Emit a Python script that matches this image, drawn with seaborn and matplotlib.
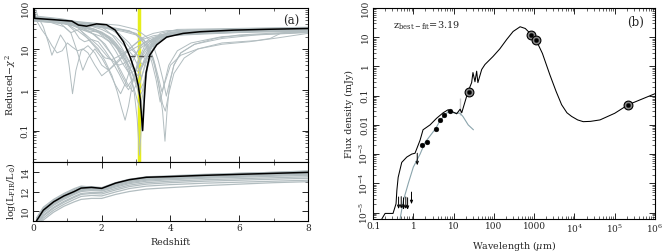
import numpy as np
import pandas as pd
import matplotlib
matplotlib.use("Agg")
import matplotlib.pyplot as plt
import seaborn as sns
from matplotlib.ticker import FixedLocator, LogLocator, NullFormatter, MultipleLocator

## Data - panel (a), reduced chi2 vs redshift
best_z = [0.0, 0.03, 0.05, 0.59, 1.13, 1.32, 1.56, 1.85, 2.14, 2.39, 2.63, 2.82, 2.97, 3.06,
          3.12, 3.19, 3.24, 3.29, 3.40, 3.60, 3.89, 4.37, 4.86, 5.83, 6.80, 8.0]
best_chi = [300, 120, 56, 52, 48, 38.5, 36, 41, 39, 29, 15, 6.5, 2.8, 1.3,
            0.6, 0.1, 0.6, 2.6, 7.1, 12.6, 19.5, 24, 26.3, 28.8, 30.2, 31.6]

grey_z = [
    [0, 0.15, 0.3, 0.45, 0.55, 0.65, 0.8, 0.95, 1.05, 1.15, 1.25, 1.4, 1.6, 1.8, 2.0, 2.2, 2.5, 2.8, 3.1, 3.5, 4.0, 5.0, 8],
    [0, 0.5, 0.9, 1.1, 1.3, 1.45, 1.6, 1.8, 2.0, 2.2, 2.4, 2.55, 2.7, 2.9, 3.1, 3.4, 3.8, 4.5, 6, 8],
    [0, 0.6, 1.0, 1.3, 1.6, 1.9, 2.1, 2.3, 2.45, 2.58, 2.68, 2.78, 2.9, 3.05, 3.25, 3.5, 3.8, 5, 8],
    [0, 0.8, 1.3, 1.8, 2.2, 2.5, 2.7, 2.85, 2.95, 3.03, 3.1, 3.17, 3.25, 3.35, 3.5, 3.7, 4.0, 5, 8],
    [0, 1.0, 1.5, 2.0, 2.5, 2.9, 3.2, 3.4, 3.55, 3.68, 3.77, 3.84, 3.9, 3.98, 4.1, 4.3, 4.7, 5.5, 6.5, 8],
    [0, 1.0, 2.0, 2.6, 3.0, 3.3, 3.5, 3.65, 3.77, 3.85, 3.95, 4.1, 4.4, 4.8, 5.5, 6.5, 6.9, 7.2, 8],
    [0, 1.0, 2.0, 2.8, 3.1, 3.3, 3.45, 3.58, 3.7, 3.8, 3.95, 4.2, 4.6, 5.5, 8],
    [0, 0.8, 1.2, 1.5, 1.8, 2.1, 2.35, 2.55, 2.75, 2.9, 3.05, 3.2, 3.4, 3.7, 4.2, 8],
    [0, 1.0, 1.4, 1.7, 2.0, 2.3, 2.55, 2.75, 2.9, 3.0, 3.15, 3.35, 3.6, 4.0, 8],
    [0, 0.5, 1.0, 1.3, 1.6, 2.0, 2.4, 2.7, 2.9, 3.0, 3.08, 3.15, 3.25, 3.4, 3.6, 4.0, 4.5, 8],
    [0, 0.6, 1.0, 1.2, 1.35, 1.5, 1.7, 1.9, 2.1, 2.3, 2.5, 2.65, 2.78, 2.9, 3.05, 3.25, 3.5, 3.9, 8],
    [0, 0.6, 1.2, 1.6, 2.0, 2.4, 2.7, 2.9, 3.05, 3.15, 3.25, 3.4, 3.6, 4.0, 8],
    [0, 0.1, 0.25, 0.4, 0.55, 0.7, 0.85, 1.0, 1.15, 1.3, 1.45, 1.6, 1.8, 2.0, 2.2, 2.45, 2.7, 3.0, 3.3, 3.7, 4.5, 8],
    [0, 0.8, 1.4, 1.9, 2.3, 2.6, 2.85, 3.05, 3.2, 3.35, 3.5, 3.7, 4.2, 8],
    [0, 0.7, 1.2, 1.5, 1.9, 2.2, 2.45, 2.65, 2.82, 2.95, 3.05, 3.12, 3.2, 3.3, 3.45, 3.7, 4.1, 8],
    [0, 1.5, 2.5, 3.0, 3.3, 3.5, 3.65, 3.78, 3.88, 3.97, 4.1, 4.3, 4.7, 5.3, 6.0, 8],
    [0, 1.0, 1.5, 2.0, 2.4, 2.65, 2.85, 3.0, 3.1, 3.18, 3.28, 3.4, 3.6, 3.9, 8],
    [0, 0.2, 0.4, 0.6, 0.8, 1.0, 1.1, 1.2, 1.35, 1.6, 1.9, 2.2, 2.5, 2.8, 3.1, 3.5, 4.5, 8],
    [0, 0.5, 1.0, 1.4, 1.7, 2.0, 2.3, 2.55, 2.75, 2.92, 3.05, 3.2, 3.4, 3.7, 4.2, 8],
    [0, 0.6, 1.1, 1.5, 1.8, 2.1, 2.4, 2.65, 2.85, 3.0, 3.12, 3.22, 3.35, 3.55, 3.9, 8],
    [0, 0.4, 0.9, 1.3, 1.6, 1.9, 2.2, 2.4, 2.6, 2.8, 3.0, 3.2, 3.5, 3.9, 8],
    [0, 0.5, 1.0, 1.3, 1.5, 1.7, 1.9, 2.1, 2.3, 2.55, 2.8, 3.0, 3.2, 3.5, 3.9, 8],
    [0, 1.0, 1.6, 2.1, 2.5, 2.8, 3.0, 3.1, 3.2, 3.3, 3.45, 3.65, 4.0, 8],
    [0, 0.8, 1.3, 1.7, 2.0, 2.3, 2.6, 2.85, 3.05, 3.25, 3.45, 3.7, 4.1, 5, 6.5, 8],
    [0, 1.0, 2.0, 2.6, 3.0, 3.3, 3.5, 3.65, 3.75, 3.85, 4.0, 4.3, 4.8, 5.5, 6.3, 7.0, 8],
]
grey_chi = [
    [150, 60, 35, 14, 7, 11, 22, 14, 4, 0.8, 3, 9, 12, 8, 4, 3, 5, 10, 16, 21, 24, 26, 28],
    [55, 45, 35, 25, 8, 3, 6, 10, 6, 3, 1.3, 0.8, 1.5, 5, 11, 18, 23, 26, 27, 28],
    [58, 50, 40, 28, 18, 10, 5, 2.2, 0.9, 0.35, 0.18, 0.4, 1.5, 5, 12, 18, 22, 26, 30],
    [55, 45, 35, 30, 20, 10, 5, 2.2, 0.8, 0.2, 0.025, 0.2, 1.2, 4, 10, 16, 21, 25, 27],
    [50, 45, 38, 35, 30, 25, 18, 10, 4, 1, 0.3, 0.055, 0.3, 1.5, 4, 8, 13, 18, 22, 25],
    [52, 44, 33, 27, 22, 12, 5, 1.5, 0.45, 0.3, 0.8, 2.5, 6, 10, 14, 16, 18, 24, 26],
    [48, 42, 35, 28, 20, 11, 5, 1.8, 0.5, 1.2, 4, 9, 14, 20, 26],
    [55, 50, 38, 30, 22, 13, 6, 2.5, 1.2, 1.8, 4, 8, 14, 20, 25, 29],
    [60, 50, 35, 25, 15, 7, 3, 1.4, 0.9, 1.3, 3.5, 10, 17, 23, 30],
    [57, 50, 45, 33, 26, 20, 12, 5, 2.5, 1.6, 1.2, 1.8, 4, 11, 18, 25, 29, 33],
    [50, 48, 40, 28, 18, 15, 17, 15, 9, 5, 2.5, 1.4, 1.0, 1.6, 4, 10, 17, 24, 32],
    [62, 55, 45, 38, 30, 20, 11, 7, 4, 2, 3.5, 9, 17, 25, 33],
    [120, 50, 30, 20, 12, 8, 9, 14, 11, 9, 10, 8, 4, 2.2, 3, 5, 8, 11, 15, 20, 25, 28],
    [65, 55, 45, 40, 30, 18, 10, 7, 6, 9, 15, 24, 30, 34],
    [53, 47, 36, 28, 26, 18, 10, 5, 2.2, 1.0, 0.5, 0.35, 0.8, 3, 9, 17, 24, 29],
    [55, 45, 38, 30, 20, 12, 5, 1.8, 0.7, 1.5, 4, 8, 13, 18, 22, 27],
    [50, 40, 32, 25, 14, 7, 3, 1.3, 0.7, 0.9, 2.5, 7, 14, 21, 30],
    [58, 55, 52, 48, 42, 30, 25, 27, 30, 20, 12, 6, 4, 5, 10, 18, 26, 31],
    [58, 52, 44, 40, 42, 35, 22, 12, 6, 3, 2.2, 4, 10, 19, 26, 31],
    [52, 48, 42, 36, 30, 22, 12, 6, 3, 1.6, 1.0, 1.5, 5, 13, 22, 30],
    [56, 52, 46, 40, 32, 25, 16, 9, 4.5, 2.5, 3, 7, 16, 24, 31],
    [60, 55, 48, 35, 22, 14, 9, 6, 5.5, 7, 10, 14, 19, 24, 28, 32],
    [54, 46, 40, 34, 24, 14, 8, 5, 4, 6, 12, 20, 27, 31],
    [48, 44, 38, 32, 26, 18, 9, 4, 2.8, 5, 11, 17, 22, 24, 26, 27],
    [50, 46, 38, 30, 24, 14, 6, 2, 0.9, 1.6, 4, 7, 10, 13, 15, 18, 24],
]

# photometric redshift marker and chi2 confidence level
z_marker = 3.08
conf_chi = 6.7
conf_z = [2.82, 3.46]

## Data - panel (a), log L_FIR vs redshift
lir_z = [0.1, 0.3, 0.6, 0.9, 1.2, 1.4, 1.7, 2.0, 2.4, 2.8, 3.3, 4.0, 5.0, 6.0, 7.0, 8.0]
best_lir = [9.0, 10.1, 10.95, 11.55, 12.0, 12.35, 12.42, 12.32, 12.85, 13.2, 13.45, 13.52, 13.65, 13.75, 13.85, 13.95]
grey_lir = [
    [9.2, 10.3, 11.1, 11.7, 12.2, 12.5, 12.5, 12.4, 12.9, 13.25, 13.5, 13.6, 13.75, 13.85, 13.95, 14.05],
    [9.1, 10.2, 11.0, 11.6, 12.1, 12.4, 12.35, 12.25, 12.75, 13.1, 13.35, 13.45, 13.6, 13.7, 13.8, 13.9],
    [8.9, 10.0, 10.8, 11.4, 11.9, 12.2, 12.3, 12.2, 12.65, 13.0, 13.25, 13.35, 13.5, 13.6, 13.7, 13.8],
    [8.8, 9.9, 10.7, 11.3, 11.8, 12.1, 12.2, 12.1, 12.55, 12.9, 13.15, 13.3, 13.45, 13.55, 13.65, 13.75],
    [8.7, 9.8, 10.6, 11.2, 11.7, 12.0, 12.1, 12.05, 12.45, 12.8, 13.05, 13.2, 13.35, 13.45, 13.55, 13.65],
    [8.6, 9.6, 10.4, 11.0, 11.5, 11.8, 11.9, 11.9, 12.3, 12.65, 12.9, 13.05, 13.2, 13.3, 13.4, 13.5],
    [8.5, 9.5, 10.3, 10.9, 11.4, 11.7, 11.8, 11.75, 12.15, 12.5, 12.75, 12.9, 13.05, 13.15, 13.25, 13.35],
    [8.4, 9.3, 10.1, 10.7, 11.2, 11.5, 11.6, 11.55, 11.95, 12.3, 12.55, 12.7, 12.85, 12.95, 13.05, 13.15],
    [8.3, 9.1, 9.9, 10.5, 10.95, 11.2, 11.3, 11.3, 11.7, 12.0, 12.25, 12.4, 12.6, 12.75, 12.9, 13.0],
    [9.3, 10.4, 11.2, 11.8, 12.3, 12.55, 12.45, 12.35, 12.85, 13.2, 13.45, 13.55, 13.7, 13.85, 13.95, 14.1],
    [9.0, 10.15, 10.9, 11.5, 12.0, 12.3, 12.3, 12.2, 12.7, 13.05, 13.3, 13.4, 13.55, 13.65, 13.75, 13.85],
    [8.95, 10.05, 10.85, 11.45, 11.95, 12.25, 12.3, 12.25, 12.7, 13.05, 13.3, 13.4, 13.5, 13.6, 13.72, 13.82],
]

## Data - panel (b), SED
sed_wave = [0.15, 0.167, 0.199, 0.313, 0.372, 0.39, 0.42, 0.515, 0.686, 0.91, 1.1, 1.47, 1.74, 2.6, 3.8,
            5.5, 7.3, 9.0, 11.9, 14.5, 14.5, 14.5, 15.9, 22.8, 28, 30.2, 33.9, 37.3, 40, 49.8, 60,
            95, 140, 209, 300, 447, 600, 871, 1100, 1600, 2450, 3500, 4800, 6500, 8500, 12000,
            16500, 25000, 43000, 1e5, 2.16e5, 1e6]
sed_flux = [4e-6, 6.2e-6, 9.3e-6, 9.3e-6, 2.0e-5, 5.8e-5, 1.6e-4, 5.2e-4, 7.9e-4, 1.0e-3, 1.07e-3, 3.0e-3, 6.8e-3, 0.010, 0.017,
            0.026, 0.033, 0.029, 0.024, 0.022, 0.085, 0.022, 0.026, 0.138, 0.28, 0.62, 0.30, 0.69, 0.28, 0.79, 1.17,
            2.2, 4.0, 8.5, 15.8, 22.9, 20, 12, 8.3, 2.8, 0.52, 0.14, 0.049, 0.026, 0.0195, 0.0148,
            0.0129, 0.0132, 0.0148, 0.025, 0.049, 0.117]
alt_wave = [0.468, 0.565, 0.75, 1.0, 1.47, 1.95, 2.86, 3.6, 4.6, 5.9, 7.6, 9.8, 14.4, 17, 23, 31]
alt_flux = [6.0e-6, 2.57e-5, 1.0e-4, 3.6e-4, 1.0e-3, 2.5e-3, 5.0e-3, 7.6e-3, 0.014, 0.021, 0.030, 0.026, 0.025, 0.0195, 0.010, 0.0068]

phot_wave = [1.6, 2.2, 3.6, 4.5, 5.8, 8.0]
phot_flux = [2.1e-3, 2.5e-3, 7.2e-3, 0.0148, 0.0214, 0.031]
fir_wave = [24, 850, 1100, 2.1e5]
fir_flux = [0.138, 12, 8.3, 0.049]
lim_wave = [1.25, 0.43, 0.5, 0.57, 0.65, 0.72, 0.9]
lim_flux = [1.07e-3, 3.4e-5, 3.5e-5, 3.2e-5, 3.4e-5, 3.2e-5, 5.0e-5]

## Style
sns.set_style("ticks")
plt.rcParams["font.family"] = ["DejaVu Serif"]
plt.rcParams["mathtext.fontset"] = "dejavuserif"
plt.rcParams["font.size"] = 6.8
for ax_ in ["xtick", "ytick"]:
    plt.rcParams[ax_ + ".direction"] = "in"
    plt.rcParams[ax_ + ".major.size"] = 4
    plt.rcParams[ax_ + ".minor.size"] = 2
    plt.rcParams[ax_ + ".major.width"] = 0.7
    plt.rcParams[ax_ + ".minor.width"] = 0.5
    plt.rcParams[ax_ + ".labelsize"] = 6.5
    plt.rcParams[ax_ + ".major.pad"] = 2.5
plt.rcParams["axes.linewidth"] = 0.8
plt.rcParams["axes.edgecolor"] = "black"

grey = "#b2bdc0"
grey_sed = "#8aa4ac"

fig = plt.figure(figsize=(6.65, 2.52), dpi=100)
ax1 = fig.add_axes([0.0496, 0.357, 0.4135, 0.611])
ax2 = fig.add_axes([0.0496, 0.123, 0.4135, 0.234], sharex=ax1)
ax3 = fig.add_axes([0.561, 0.131, 0.424, 0.837])

## Panel (a) top
ax1.set_yscale("log")
chi_rows = []
for i, (zs, cs) in enumerate(zip(grey_z, grey_chi)):
    for z, c in zip(zs, cs):
        chi_rows.append({"curve": i, "z": z, "chi": c})
chi_df = pd.DataFrame(chi_rows)
sns.lineplot(data=chi_df, x="z", y="chi", units="curve", estimator=None, sort=False,
             color=grey, lw=0.7, ax=ax1, legend=False)
ax1.axvline(z_marker, color="#e6ee1a", lw=2.5, zorder=1)
ax1.hlines(conf_chi, conf_z[0], conf_z[1], colors="#555555", linestyles=(0, (4, 3)), lw=0.9, zorder=4)
sns.lineplot(x=best_z, y=best_chi, color="black", lw=1.1, sort=False, ax=ax1, zorder=5)
ax1.set_xlim(0, 8)
ax1.set_ylim(0.017, 100)
ax1.set_yticks([0.1, 1, 10, 100])
ax1.set_yticklabels(["0.1", "1", "10", "100"], rotation=90, va="center")
ax1.yaxis.set_minor_locator(LogLocator(base=10, subs=np.arange(2, 10)))
ax1.yaxis.set_minor_formatter(NullFormatter())
ax1.set_ylabel(r"Reduced$-\chi^2$", labelpad=2)
ax1.set_xlabel("")
ax1.tick_params(which="both", top=True, right=True, labelbottom=False)
ax1.text(0.94, 0.91, "(a)", transform=ax1.transAxes, ha="center", va="center", fontsize=8.5)

## Panel (a) bottom
lir_rows = []
for i, ls in enumerate(grey_lir):
    for z, l in zip(lir_z, ls):
        lir_rows.append({"curve": i, "z": z, "lir": l})
lir_df = pd.DataFrame(lir_rows)
sns.lineplot(data=lir_df, x="z", y="lir", units="curve", estimator=None, sort=False,
             color=grey, lw=0.9, ax=ax2, legend=False)
sns.lineplot(x=lir_z, y=best_lir, color="black", lw=1.1, sort=False, ax=ax2, zorder=5)
ax2.set_ylim(9, 15)
ax2.set_yticks([10, 12, 14])
ax2.set_yticklabels(["10", "12", "14"], rotation=90, va="center")
ax2.yaxis.set_minor_locator(MultipleLocator(1))
ax2.xaxis.set_major_locator(MultipleLocator(2))
ax2.xaxis.set_minor_locator(MultipleLocator(1))
ax2.set_xlim(0, 8)
ax2.tick_params(which="both", top=True, right=True)
ax2.set_xlabel("Redshift", labelpad=3)
ax2.set_ylabel(r"log(L$_{\rm FIR}$/L$_{\odot}$)", labelpad=2)

## Panel (b)
ax3.set_xscale("log")
ax3.set_yscale("log")
sns.lineplot(x=alt_wave, y=alt_flux, color=grey_sed, lw=0.8, sort=False, ax=ax3)
sns.lineplot(x=sed_wave, y=sed_flux, color="black", lw=0.75, sort=False, ax=ax3)
sns.scatterplot(x=phot_wave, y=phot_flux, color="black", s=12, edgecolor="black", ax=ax3, zorder=6)
sns.scatterplot(x=fir_wave, y=fir_flux, s=40, facecolor="#888888", edgecolor="black", linewidth=0.8, ax=ax3, zorder=6)
sns.scatterplot(x=fir_wave, y=fir_flux, color="black", s=9, edgecolor="black", ax=ax3, zorder=7)
for w, f in zip(lim_wave, lim_flux):
    ax3.annotate("", xy=(w, f / 2.6), xytext=(w, f),
                 arrowprops=dict(arrowstyle="->,head_length=0.3,head_width=0.12", lw=0.7,
                                 color="black", shrinkA=0, shrinkB=0))
ax3.set_xlim(0.1, 1e6)
ax3.set_ylim(6e-6, 100)
ax3.xaxis.set_major_locator(FixedLocator([0.1, 1, 10, 100, 1000, 1e4, 1e5, 1e6]))
ax3.set_xticklabels(["0.1", "1", "10", "100", "1000", r"10$^4$", r"10$^5$", r"10$^6$"])
ax3.xaxis.set_minor_locator(LogLocator(base=10, subs=np.arange(2, 10), numticks=20))
ax3.xaxis.set_minor_formatter(NullFormatter())
ax3.yaxis.set_major_locator(FixedLocator([1e-5, 1e-4, 1e-3, 0.01, 0.1, 1, 10, 100]))
ax3.set_yticklabels([r"10$^{-5}$", r"10$^{-4}$", r"10$^{-3}$", "0.01", "0.1", "1", "10", "100"],
                    rotation=90, va="center")
ax3.yaxis.set_minor_locator(LogLocator(base=10, subs=np.arange(2, 10), numticks=20))
ax3.yaxis.set_minor_formatter(NullFormatter())
ax3.tick_params(which="both", top=True, right=True)
ax3.set_xlabel(r"Wavelength ($\mu$m)", labelpad=3)
ax3.set_ylabel("Flux density (mJy)", labelpad=2)
ax3.text(0.07, 0.915, r"z$_{\rm best-fit}$=3.19", transform=ax3.transAxes, ha="left", va="center", fontsize=7)
ax3.text(0.93, 0.93, "(b)", transform=ax3.transAxes, ha="center", va="center", fontsize=8.5)

fig.savefig("out.png", dpi=100)
